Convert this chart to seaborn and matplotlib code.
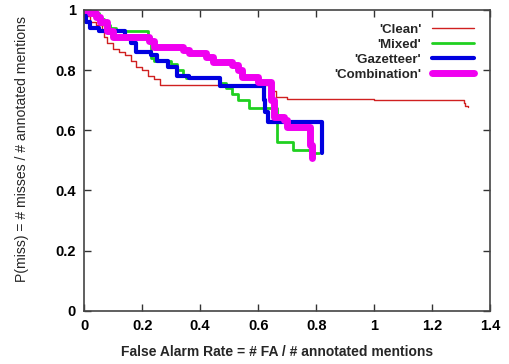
import pandas as pd
import matplotlib.pyplot as plt
import seaborn as sns

# DET curves (steps-post vertices)
clean_fa = [0, 0.01, 0.02, 0.04, 0.06, 0.07, 0.08, 0.10, 0.12, 0.14, 0.16, 0.18, 0.20, 0.22, 0.24,
            0.26, 0.64, 0.66, 0.70, 1.0, 1.31, 1.315, 1.325]
clean_miss = [1.0, 0.98, 0.96, 0.95, 0.93, 0.91, 0.89, 0.87, 0.86, 0.85, 0.83, 0.81, 0.80, 0.78, 0.77,
              0.75, 0.73, 0.711, 0.705, 0.70, 0.69, 0.68, 0.678]

mixed_fa = [0, 0.03, 0.05, 0.07, 0.09, 0.11, 0.22, 0.23, 0.24, 0.30, 0.32, 0.34, 0.35, 0.47, 0.49,
            0.51, 0.53, 0.57, 0.665, 0.72, 0.785, 0.81]
mixed_miss = [1.0, 0.99, 0.97, 0.95, 0.94, 0.93, 0.91, 0.84, 0.83, 0.82, 0.80, 0.78, 0.775, 0.757, 0.74,
              0.72, 0.70, 0.674, 0.56, 0.535, 0.525, 0.525]

gaz_fa = [0, 0.005, 0.02, 0.05, 0.14, 0.16, 0.18, 0.23, 0.25, 0.29, 0.32, 0.36, 0.47, 0.62, 0.625,
          0.635, 0.82]
gaz_miss = [1.0, 0.96, 0.94, 0.93, 0.905, 0.89, 0.86, 0.85, 0.83, 0.81, 0.78, 0.775, 0.747, 0.70, 0.66,
            0.628, 0.525]

comb_fa = [0, 0.02, 0.04, 0.055, 0.08, 0.10, 0.225, 0.24, 0.34, 0.36, 0.42, 0.445, 0.51, 0.53, 0.545,
           0.60, 0.645, 0.655, 0.69, 0.70, 0.78, 0.785]
comb_miss = [1.0, 0.99, 0.977, 0.96, 0.93, 0.91, 0.895, 0.877, 0.865, 0.857, 0.844, 0.827, 0.817, 0.80,
             0.777, 0.76, 0.70, 0.645, 0.635, 0.611, 0.55, 0.508]

series = ["'Clean'", "'Mixed'", "'Gazetteer'", "'Combination'"]
colors = ['#d02020', '#20d020', '#0000e0', '#f000f0']
widths = [1.0, 2.0, 3.0, 5.0]
fa_vals = [clean_fa, mixed_fa, gaz_fa, comb_fa]
miss_vals = [clean_miss, mixed_miss, gaz_miss, comb_miss]

sns.set_style('ticks')
plt.rcParams['font.family'] = ['Liberation Sans', 'DejaVu Sans']
plt.rcParams['xtick.direction'] = 'in'
plt.rcParams['ytick.direction'] = 'in'

fig = plt.figure(figsize=(5.1, 3.64), dpi=100)
ax = fig.add_axes([0.165, 0.146, 0.796, 0.827])

for name, fa, miss, c, lw in zip(series, fa_vals, miss_vals, colors, widths):
    df = pd.DataFrame({'fa': fa, 'miss': miss})
    sns.lineplot(data=df, x='fa', y='miss', ax=ax, color=c, linewidth=lw, label=name,
                 estimator=None, sort=False, drawstyle='steps-post')

ax.set_xlim(0, 1.4)
ax.set_ylim(0, 1)
xt = [0, 0.2, 0.4, 0.6, 0.8, 1, 1.2, 1.4]
yt = [0, 0.2, 0.4, 0.6, 0.8, 1]
ax.set_xticks(xt)
ax.set_xticklabels(['0', '0.2', '0.4', '0.6', '0.8', '1', '1.2', '1.4'], fontweight='bold')
ax.set_yticks(yt)
ax.set_yticklabels(['0', '0.2', '0.4', '0.6', '0.8', '1'], fontweight='bold')
ax.tick_params(top=True, right=True, length=5, width=1, labelsize=10.5, pad=6, colors='#333333',
               labelcolor='black')
for s in ax.spines.values():
    s.set_color('#444444')
    s.set_linewidth(1.2)

ax.set_xlabel('False Alarm Rate = # FA / # annotated mentions', fontsize=10, fontweight='bold')
ax.set_ylabel('P(miss) = # misses / # annotated mentions', fontsize=10.1)
ax.xaxis.set_label_coords(0.475, -0.136)
ax.yaxis.set_label_coords(-0.153, 0.538)
ax.xaxis.label.set_va('center')
ax.yaxis.label.set_va('center')

leg = ax.legend(loc='upper right', bbox_to_anchor=(0.98, 0.98), markerfirst=False, frameon=False,
                handlelength=3.2, labelspacing=0.2, prop={'weight': 'bold', 'size': 9.5},
                handletextpad=0.8, borderaxespad=0.2)
for t in leg.get_texts():
    t.set_ha('right')
leg._legend_box.align = 'right'

fig.savefig('out.png', dpi=100)
